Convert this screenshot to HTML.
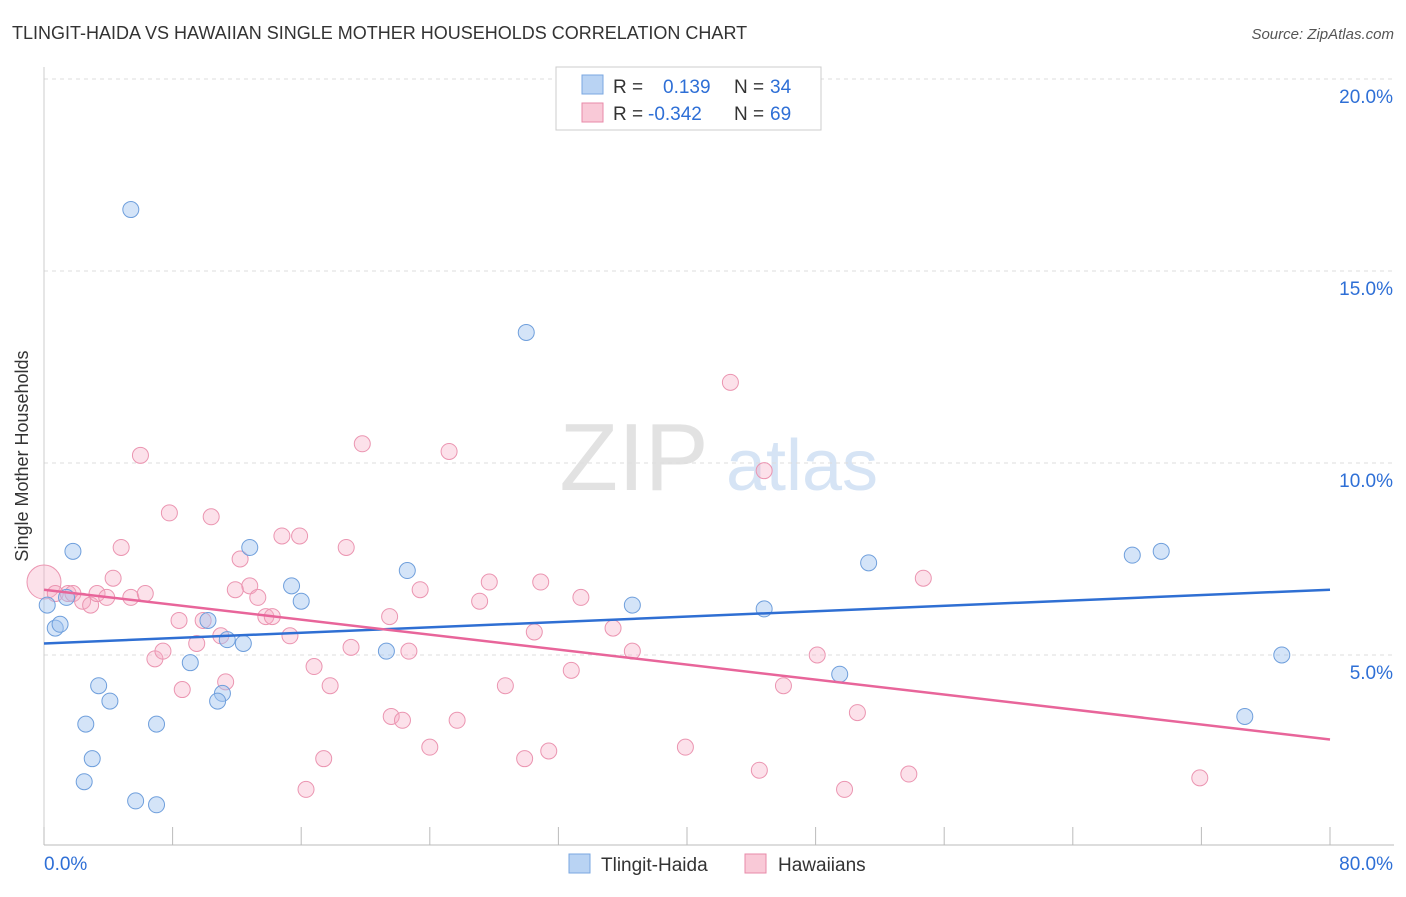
<!DOCTYPE html>
<html><head><meta charset="utf-8"><style>
body{margin:0;background:#fff;font-family:"Liberation Sans",sans-serif;}
svg text{font-family:"Liberation Sans",sans-serif;}
</style></head><body>
<svg id="chart" width="1406" height="892">
<text x="12" y="39" font-size="18" fill="#333">TLINGIT-HAIDA VS HAWAIIAN SINGLE MOTHER HOUSEHOLDS CORRELATION CHART</text>
<text x="1394" y="39" font-size="15" fill="#555" text-anchor="end" font-style="italic">Source: ZipAtlas.com</text>
<g>
<text x="634" y="490" font-size="96" fill="#e2e2e2" text-anchor="middle" font-family="Liberation Serif,serif">ZIP</text>
<text x="802" y="490" font-size="72" fill="#d6e4f5" text-anchor="middle">atlas</text>
</g>
<g id="grid"></g><g id="axes"></g><g id="pts"></g><g id="trend"></g>
<text x="28" y="456" font-size="18" fill="#333" text-anchor="middle" transform="rotate(-90 28 456)">Single Mother Households</text>
<g>
<rect x="556" y="67" width="265" height="63" fill="#fff" stroke="#ccc"/>
<rect x="582" y="75" width="21" height="19" fill="#b9d3f3" stroke="#7aa7e0"/>
<rect x="582" y="103" width="21" height="19" fill="#f9c9d7" stroke="#e88aa8"/>
<text x="613" y="93" font-size="19" fill="#333">R =</text><text x="663" y="93" font-size="19" fill="#2e6fd6">0.139</text>
<text x="734" y="93" font-size="19" fill="#333">N =</text><text x="770" y="93" font-size="19" fill="#2e6fd6">34</text>
<text x="613" y="120" font-size="19" fill="#333">R =</text><text x="648" y="120" font-size="19" fill="#2e6fd6">-0.342</text>
<text x="734" y="120" font-size="19" fill="#333">N =</text><text x="770" y="120" font-size="19" fill="#2e6fd6">69</text>
</g>
<g>
<rect x="569" y="854" width="21" height="19" fill="#b9d3f3" stroke="#7aa7e0"/>
<text x="601" y="871" font-size="19" fill="#333">Tlingit-Haida</text>
<rect x="745" y="854" width="21" height="19" fill="#f9c9d7" stroke="#e88aa8"/>
<text x="778" y="871" font-size="19" fill="#333">Hawaiians</text>
</g>
</svg>
<script>
const yTicks=[5,10,15,20];
const yTickLabels=["5.0%","10.0%","15.0%","20.0%"];
const xTicks=[0,8,16,24,32,40,48,56,64,72,80];
const blueX=[5.4,30.0,1.8,12.8,0.2,1.4,0.7,1.0,10.2,11.4,12.4,9.1,3.4,4.1,11.1,10.8,2.6,7.0,3.0,2.5,5.7,7.0,15.4,16.0,22.6,21.3,36.6,44.8,51.3,49.5,67.7,69.5,77.0,74.7];
const blueY=[16.6,13.4,7.7,7.8,6.3,6.5,5.7,5.8,5.9,5.4,5.3,4.8,4.2,3.8,4.0,3.8,3.2,3.2,2.3,1.7,1.2,1.1,6.8,6.4,7.2,5.1,6.3,6.2,7.4,4.5,7.6,7.7,5.0,3.4];
const pinkX=[0.0,0.7,1.5,1.8,2.4,2.9,3.3,3.9,4.3,4.8,5.4,6.3,6.0,7.8,10.4,6.9,7.4,8.4,8.6,9.5,9.9,11.0,11.3,12.2,12.8,11.9,13.3,13.8,14.2,14.8,15.9,15.3,16.8,17.8,17.4,16.3,18.8,19.1,19.8,21.5,21.6,22.3,22.7,23.4,24.0,25.2,25.7,27.1,27.7,28.7,29.9,30.5,30.9,31.4,32.8,33.4,35.4,36.6,39.9,42.7,44.8,44.5,46.0,48.1,49.8,50.6,53.8,54.7,71.9];
const pinkY=[6.9,6.6,6.6,6.6,6.4,6.3,6.6,6.5,7.0,7.8,6.5,6.6,10.2,8.7,8.6,4.9,5.1,5.9,4.1,5.3,5.9,5.5,4.3,7.5,6.8,6.7,6.5,6.0,6.0,8.1,8.1,5.5,4.7,4.2,2.3,1.5,7.8,5.2,10.5,6.0,3.4,3.3,5.1,6.7,2.6,10.3,3.3,6.4,6.9,4.2,2.3,5.6,6.9,2.5,4.6,6.5,5.7,5.1,2.6,12.1,9.8,2.0,4.2,5.0,1.5,3.5,1.9,7.0,1.8];
const trendBlue=[5.3,6.7];
const trendPink=[6.7,2.8];
const NS='http://www.w3.org/2000/svg';
const X=v=>44+v/80*1286, Y=v=>847-v*38.4;
function mk(p,t,a){const e=document.createElementNS(NS,t);for(const k in a)e.setAttribute(k,a[k]);document.getElementById(p).appendChild(e);return e;}
yTicks.forEach((v,i)=>{
 const l=mk('grid','line',{x1:44,x2:1394,y1:Y(v),y2:Y(v),stroke:'#ddd','stroke-dasharray':'4,4'});
 
 
 const t=mk('grid','text',{x:1393,y:Y(v)+24,'text-anchor':'end','font-size':19,fill:'#2e6fd6'});
 t.textContent=yTickLabels[i];
 
 
});
const ax=mk('axes','line',{x1:44,x2:1394,y1:845,y2:845,stroke:'#bbb'});


const ay=mk('axes','line',{x1:44,x2:44,y1:67,y2:845,stroke:'#ccc'});


xTicks.forEach(v=>{const t=mk('axes','line',{x1:X(v),x2:X(v),y1:827,y2:845,stroke:'#bbb'});
 
 });
[["0.0%",44,'start'],["80.0%",1393,'end']].forEach(d=>{const t=mk('axes','text',{x:d[1],y:870,'font-size':19,fill:'#2e6fd6','text-anchor':d[2]});t.textContent=d[0];
 
 });
pinkX.forEach((v,i)=>{const c=mk('pts','circle',{cx:X(v),cy:Y(pinkY[i]),r:i===0?17:8,fill:'rgba(245,170,195,0.35)',stroke:'#eb95b1','stroke-width':1});
 
 });
blueX.forEach((v,i)=>{const c=mk('pts','circle',{cx:X(v),cy:Y(blueY[i]),r:8,fill:'rgba(160,195,240,0.45)',stroke:'#6f9fdc','stroke-width':1});
 
 });
const tb=mk('trend','line',{x1:X(0),x2:X(80),y1:Y(trendBlue[0]),y2:Y(trendBlue[1]),stroke:'#2f6fd3','stroke-width':2.5});


const tp=mk('trend','line',{x1:X(0),x2:X(80),y1:Y(trendPink[0]),y2:Y(trendPink[1]),stroke:'#e8659a','stroke-width':2.5});


</script>
</body></html>
